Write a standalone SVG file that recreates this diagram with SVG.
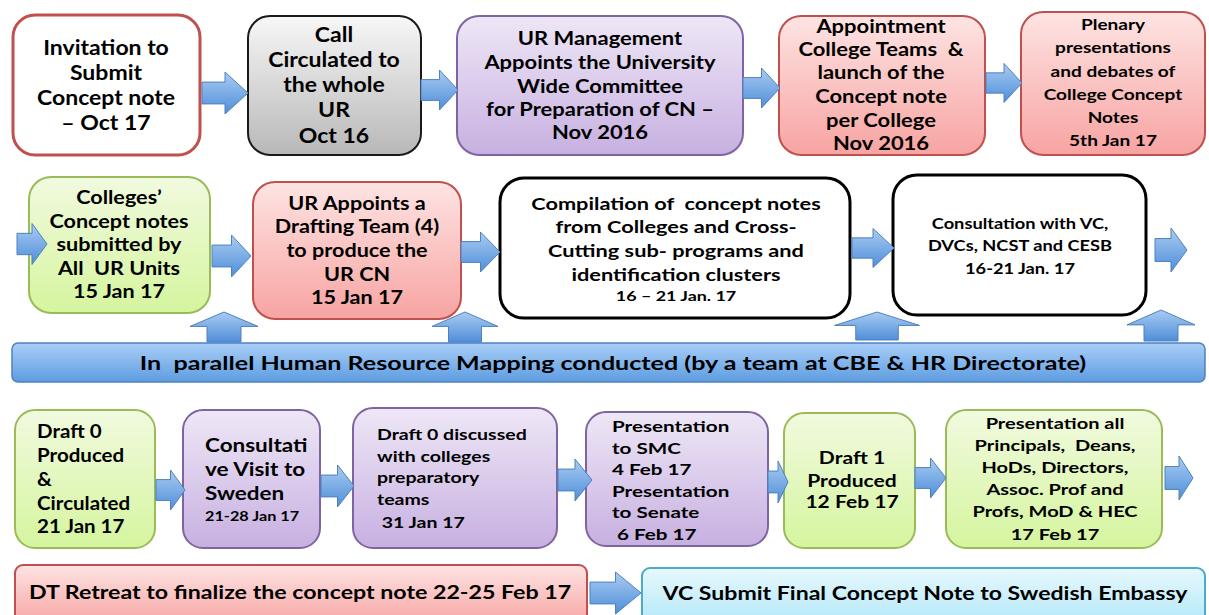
<svg xmlns="http://www.w3.org/2000/svg" width="1209" height="615" viewBox="0 0 1209 615">
  <defs>
    <linearGradient id="gRed" x1="0" y1="0" x2="0" y2="1">
      <stop offset="0" stop-color="#fde4e3"/>
      <stop offset="1" stop-color="#f7a4a2"/>
    </linearGradient>
    <linearGradient id="gPurple" x1="0" y1="0" x2="0" y2="1">
      <stop offset="0" stop-color="#eee7f6"/>
      <stop offset="1" stop-color="#c7b0e1"/>
    </linearGradient>
    <linearGradient id="gGreen" x1="0" y1="0" x2="0" y2="1">
      <stop offset="0" stop-color="#f1fadf"/>
      <stop offset="1" stop-color="#d5f59e"/>
    </linearGradient>
    <linearGradient id="gGray" x1="0" y1="0" x2="0" y2="1">
      <stop offset="0" stop-color="#f7f7f7"/>
      <stop offset="1" stop-color="#b8b8b8"/>
    </linearGradient>
    <linearGradient id="gBlue" x1="0" y1="0" x2="0" y2="1">
      <stop offset="0" stop-color="#aacff8"/>
      <stop offset="1" stop-color="#5d9ce0"/>
    </linearGradient>
    <linearGradient id="gCyan" x1="0" y1="0" x2="0" y2="1">
      <stop offset="0" stop-color="#e7f8fd"/>
      <stop offset="1" stop-color="#b0e7f8"/>
    </linearGradient>
    <linearGradient id="gArrow" x1="0" y1="0" x2="0" y2="1">
      <stop offset="0" stop-color="#a9ccf2"/>
      <stop offset="1" stop-color="#4f8ed9"/>
    </linearGradient>
    <!-- unit block arrows: right arrow 1x1 anchored at left-middle, up arrow 1x1 anchored at base-centre -->
    <path id="ra" vector-effect="non-scaling-stroke" d="M0,-0.26 H0.5 V-0.5 L1,0 L0.5,0.5 V0.26 H0 Z"/>
    <path id="ua" vector-effect="non-scaling-stroke" d="M-0.25,0 V-0.52 H-0.5 L0,-1 L0.5,-0.52 H0.25 V0 Z"/>
    <style>
      text { font-family: Lato, "Open Sans", "Liberation Sans", sans-serif; font-weight: 700; fill: #000; white-space: pre; }
      .c { text-anchor: middle; }
      .red { fill: url(#gRed); stroke: #c0504d; stroke-width: 2; }
      .purple { fill: url(#gPurple); stroke: #8064a2; stroke-width: 2; }
      .green { fill: url(#gGreen); stroke: #9bbb59; stroke-width: 2; }
      .gray { fill: url(#gGray); stroke: #1a1a1a; stroke-width: 2; }
      .plain { fill: #fff; stroke: #000; stroke-width: 3; }
      .outline-red { fill: #fff; stroke: #c0504d; stroke-width: 3; }
      .banner { fill: url(#gBlue); stroke: #4f81bd; stroke-width: 1.5; }
      .cyan { fill: url(#gCyan); stroke: #4bacc6; stroke-width: 2; }
      .arrow { fill: url(#gArrow); stroke: #4f81bd; stroke-width: 1; }
    </style>
  </defs>

  <rect width="1209" height="615" fill="#fff"/>

  <!-- top row -->
  <g id="n-invitation">
    <rect class="outline-red" x="13" y="15" width="187" height="140" rx="22"/>
    <text class="c" font-size="20" transform="matrix(1.15,0,0,1,106,0)"><tspan x="0" y="55">Invitation to</tspan><tspan x="0" y="80">Submit</tspan><tspan x="0" y="105">Concept note</tspan><tspan x="0" y="130">– Oct 17</tspan></text>
  </g>
  <g id="n-call">
    <rect class="gray" x="248" y="16" width="173" height="139" rx="22"/>
    <text class="c" font-size="20" transform="matrix(1.15,0,0,1,334,0)"><tspan x="0" y="42">Call</tspan><tspan x="0" y="67">Circulated to</tspan><tspan x="0" y="92">the whole</tspan><tspan x="0" y="117">UR</tspan><tspan x="0" y="143">Oct 16</tspan></text>
  </g>
  <g id="n-management">
    <rect class="purple" x="457" y="16" width="286" height="139" rx="22"/>
    <text class="c" font-size="18" transform="matrix(1.22,0,0,1,600,0)"><tspan x="0" y="45">UR Management</tspan><tspan x="0" y="69">Appoints the University</tspan><tspan x="0" y="93">Wide Committee</tspan><tspan x="0" y="116">for Preparation of CN –</tspan><tspan x="0" y="139">Nov 2016</tspan></text>
  </g>
  <g id="n-college-teams">
    <rect class="red" x="779" y="16" width="206" height="139" rx="22"/>
    <text class="c" font-size="18" transform="matrix(1.22,0,0,1,881,0)"><tspan x="0" y="33">Appointment</tspan><tspan x="0" y="56">College Teams  &amp;</tspan><tspan x="0" y="79">launch of the</tspan><tspan x="0" y="103">Concept note</tspan><tspan x="0" y="127">per College</tspan><tspan x="0" y="150">Nov 2016</tspan></text>
  </g>
  <g id="n-plenary">
    <rect class="red" x="1021" y="12" width="184" height="143" rx="22"/>
    <text class="c" font-size="15" transform="matrix(1.27,0,0,1,1113,0)"><tspan x="0" y="30">Plenary</tspan><tspan x="0" y="53">presentations</tspan><tspan x="0" y="77">and debates of</tspan><tspan x="0" y="100">College Concept</tspan><tspan x="0" y="123">Notes</tspan><tspan x="0" y="146">5th Jan 17</tspan></text>
  </g>

  <!-- middle row -->
  <g id="n-submitted">
    <rect class="green" x="29" y="177" width="181" height="136" rx="22"/>
    <text class="c" font-size="18" transform="matrix(1.2,0,0,1,119,0)"><tspan x="0" y="204">Colleges’</tspan><tspan x="0" y="228">Concept notes</tspan><tspan x="0" y="251">submitted by</tspan><tspan x="0" y="275">All  UR Units</tspan><tspan x="0" y="298">15 Jan 17</tspan></text>
  </g>
  <g id="n-drafting-team">
    <rect class="red" x="253" y="182" width="208" height="137" rx="22"/>
    <text class="c" font-size="18" transform="matrix(1.2,0,0,1,357,0)"><tspan x="0" y="210">UR Appoints a</tspan><tspan x="0" y="233">Drafting Team (4)</tspan><tspan x="0" y="257">to produce the</tspan><tspan x="0" y="281">UR CN</tspan><tspan x="0" y="304">15 Jan 17</tspan></text>
  </g>
  <g id="n-compilation">
    <rect class="plain" x="500" y="178" width="350" height="140" rx="24"/>
    <text class="c" font-size="17" transform="matrix(1.28,0,0,1,676,0)"><tspan x="0" y="210">Compilation of  concept notes</tspan><tspan x="0" y="233">from Colleges and Cross-</tspan><tspan x="0" y="257">Cutting sub- programs and</tspan><tspan x="0" y="281">identification clusters</tspan></text>
    <text class="c" font-size="14" transform="matrix(1.28,0,0,1,676,0)" x="0" y="301">16 – 21 Jan. 17</text>
  </g>
  <g id="n-consultation">
    <rect class="plain" x="893" y="175" width="253" height="140" rx="24"/>
    <text class="c" font-size="16" transform="matrix(1.14,0,0,1,1020,0)"><tspan x="0" y="229">Consultation with VC,</tspan><tspan x="0" y="251">DVCs, NCST and CESB</tspan><tspan x="0" y="274">16-21 Jan. 17</tspan></text>
  </g>

  <!-- mapping banner -->
  <g id="n-mapping">
    <rect class="banner" x="12" y="343" width="1193" height="39" rx="6"/>
    <text class="c" font-size="19" transform="matrix(1.32,0,0,1,613,0)" x="0" y="370">In  parallel Human Resource Mapping conducted (by a team at CBE &amp; HR Directorate)</text>
  </g>

  <!-- bottom row -->
  <g id="n-draft0">
    <rect class="green" x="15" y="410" width="140" height="138" rx="20"/>
    <text font-size="18" transform="matrix(1.14,0,0,1,37,0)"><tspan x="0" y="438">Draft 0</tspan><tspan x="0" y="462">Produced</tspan><tspan x="0" y="486">&amp;</tspan><tspan x="0" y="510">Circulated</tspan><tspan x="0" y="533">21 Jan 17</tspan></text>
  </g>
  <g id="n-sweden">
    <rect class="purple" x="183" y="410" width="137" height="138" rx="20"/>
    <text font-size="18" transform="matrix(1.25,0,0,1,205,0)"><tspan x="0" y="452">Consultati</tspan><tspan x="0" y="476">ve Visit to</tspan><tspan x="0" y="500">Sweden</tspan></text>
    <text font-size="13" transform="matrix(1.25,0,0,1,205,0)" x="0" y="521">21-28 Jan 17</text>
  </g>
  <g id="n-discussed">
    <rect class="purple" x="353" y="408" width="204" height="140" rx="20"/>
    <text font-size="16" transform="matrix(1.22,0,0,1,377,0)"><tspan x="0" y="440">Draft 0 discussed</tspan><tspan x="0" y="462">with colleges</tspan><tspan x="0" y="483">preparatory</tspan><tspan x="0" y="505">teams</tspan><tspan x="0" y="528"> 31 Jan 17</tspan></text>
  </g>
  <g id="n-smc-senate">
    <rect class="purple" x="586" y="412" width="182" height="134" rx="20"/>
    <text font-size="16" transform="matrix(1.29,0,0,1,612,0)"><tspan x="0" y="432">Presentation</tspan><tspan x="0" y="454">to SMC</tspan><tspan x="0" y="475">4 Feb 17</tspan><tspan x="0" y="497">Presentation</tspan><tspan x="0" y="518">to Senate</tspan><tspan x="0" y="540"> 6 Feb 17</tspan></text>
  </g>
  <g id="n-draft1">
    <rect class="green" x="784" y="413" width="131" height="135" rx="20"/>
    <text class="c" font-size="17" transform="matrix(1.24,0,0,1,852,0)"><tspan x="0" y="464">Draft 1</tspan><tspan x="0" y="487">Produced</tspan><tspan x="0" y="508">12 Feb 17</tspan></text>
  </g>
  <g id="n-principals">
    <rect class="green" x="946" y="410" width="216" height="138" rx="20"/>
    <text class="c" font-size="16" transform="matrix(1.25,0,0,1,1055,0)"><tspan x="0" y="429">Presentation all</tspan><tspan x="0" y="451">Principals,  Deans,</tspan><tspan x="0" y="473">HoDs, Directors,</tspan><tspan x="0" y="495">Assoc. Prof and</tspan><tspan x="0" y="517">Profs, MoD &amp; HEC</tspan><tspan x="0" y="540">17 Feb 17</tspan></text>
  </g>

  <!-- final step bars -->
  <g id="n-retreat">
    <rect class="red" x="15" y="565" width="572" height="60" rx="8"/>
    <text class="c" font-size="19" transform="matrix(1.22,0,0,1,300,0)" x="0" y="599">DT Retreat to finalize the concept note 22-25 Feb 17</text>
  </g>
  <g id="n-submit">
    <rect class="cyan" x="642" y="568" width="563" height="60" rx="8"/>
    <text class="c" font-size="19" transform="matrix(1.215,0,0,1,925,0)" x="0" y="600">VC Submit Final Concept Note to Swedish Embassy</text>
  </g>

  <!-- connectors (block arrows drawn over the box edges) -->
  <g id="connectors">
    <!-- top row -->
    <use href="#ra" class="arrow" transform="translate(202,93) scale(46,42)"/>
    <use href="#ra" class="arrow" transform="translate(421,90) scale(37,40)"/>
    <use href="#ra" class="arrow" transform="translate(743,88) scale(37,40)"/>
    <use href="#ra" class="arrow" transform="translate(986,83) scale(36,39)"/>
    <!-- middle row -->
    <use href="#ra" class="arrow" transform="translate(17,244) scale(30,41)"/>
    <use href="#ra" class="arrow" transform="translate(212,256) scale(39,42)"/>
    <use href="#ra" class="arrow" transform="translate(461,252) scale(39,40)"/>
    <use href="#ra" class="arrow" transform="translate(852,248) scale(42,39)"/>
    <use href="#ra" class="arrow" transform="translate(1155,250) scale(32,44)"/>
    <!-- rising from the mapping banner -->
    <use href="#ua" class="arrow" transform="translate(224,342) scale(68,30)"/>
    <use href="#ua" class="arrow" transform="translate(465,342) scale(66,30)"/>
    <use href="#ua" class="arrow" transform="translate(877,340) scale(85,28)"/>
    <use href="#ua" class="arrow" transform="translate(1161,341) scale(68,31)"/>
    <!-- bottom row -->
    <use href="#ra" class="arrow" transform="translate(156,490) scale(29,40)"/>
    <use href="#ra" class="arrow" transform="translate(321,486) scale(33,42)"/>
    <use href="#ra" class="arrow" transform="translate(558,480) scale(34,42)"/>
    <use href="#ra" class="arrow" transform="translate(768,482) scale(20,42)"/>
    <use href="#ra" class="arrow" transform="translate(915,478) scale(31,40)"/>
    <use href="#ra" class="arrow" transform="translate(1165,478) scale(28,44)"/>
    <!-- final step -->
    <use href="#ra" class="arrow" transform="translate(590,593) scale(51,42)"/>
  </g>
</svg>
